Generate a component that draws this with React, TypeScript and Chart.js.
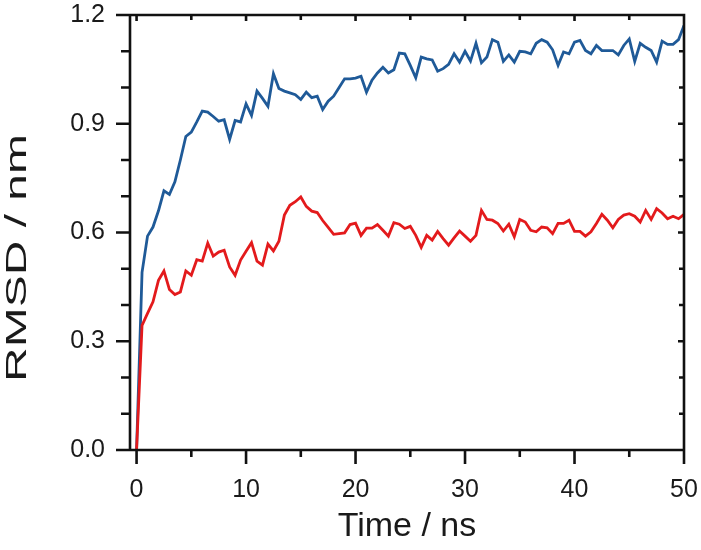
import React, { useEffect, useRef } from "react";
import { Chart, registerables } from "chart.js";

Chart.register(...registerables);

// Simulation time (ns)
const times = [
  0, 0.5, 1, 1.5, 2, 2.5, 3, 3.5, 4, 4.5, 5, 5.5, 6, 6.5, 7, 7.5, 8, 8.5, 9, 9.5,
  10, 10.5, 11, 11.5, 12, 12.5, 13, 13.5, 14, 14.5, 15, 15.5, 16, 16.5, 17, 17.5, 18, 18.5, 19, 19.5,
  20, 20.5, 21, 21.5, 22, 22.5, 23, 23.5, 24, 24.5, 25, 25.5, 26, 26.5, 27, 27.5, 28, 28.5, 29, 29.5,
  30, 30.5, 31, 31.5, 32, 32.5, 33, 33.5, 34, 34.5, 35, 35.5, 36, 36.5, 37, 37.5, 38, 38.5, 39, 39.5,
  40, 40.5, 41, 41.5, 42, 42.5, 43, 43.5, 44, 44.5, 45, 45.5, 46, 46.5, 47, 47.5, 48, 48.5, 49, 49.5,
  50,
];

// Blue trace RMSD (nm)
const blueRmsd = [
  0, 0.49, 0.59, 0.615, 0.66, 0.715, 0.705, 0.74, 0.8, 0.865, 0.877, 0.905, 0.935, 0.932, 0.92, 0.907, 0.911, 0.857, 0.909, 0.905,
  0.955, 0.923, 0.99, 0.97, 0.948, 1.038, 0.997, 0.99, 0.985, 0.98, 0.967, 0.987, 0.972, 0.976, 0.939, 0.962, 0.976, 1.0, 1.024, 1.024,
  1.026, 1.031, 0.987, 1.02, 1.04, 1.056, 1.04, 1.049, 1.095, 1.093, 1.061, 1.027, 1.084, 1.079, 1.076, 1.045, 1.052, 1.064, 1.093, 1.07,
  1.1, 1.073, 1.122, 1.068, 1.084, 1.132, 1.125, 1.072, 1.09, 1.07, 1.1, 1.098, 1.093, 1.122, 1.132, 1.125, 1.104, 1.061, 1.098, 1.093,
  1.125, 1.13, 1.102, 1.093, 1.116, 1.102, 1.102, 1.102, 1.09, 1.116, 1.134, 1.072, 1.122, 1.111, 1.102, 1.07, 1.128, 1.119, 1.119, 1.132,
  1.171,
];

// Red trace RMSD (nm)
const redRmsd = [
  0, 0.344, 0.377, 0.409, 0.468, 0.494, 0.443, 0.429, 0.436, 0.494, 0.482, 0.525, 0.521, 0.571, 0.535, 0.546, 0.551, 0.505, 0.482, 0.524,
  0.548, 0.572, 0.521, 0.51, 0.568, 0.549, 0.576, 0.648, 0.675, 0.685, 0.698, 0.672, 0.659, 0.655, 0.633, 0.614, 0.595, 0.597, 0.599, 0.622,
  0.626, 0.592, 0.612, 0.612, 0.622, 0.606, 0.59, 0.627, 0.623, 0.611, 0.617, 0.592, 0.559, 0.592, 0.579, 0.603, 0.583, 0.565, 0.585, 0.604,
  0.59, 0.576, 0.592, 0.661, 0.636, 0.634, 0.625, 0.604, 0.623, 0.588, 0.636, 0.629, 0.606, 0.602, 0.615, 0.613, 0.597, 0.625, 0.625, 0.634,
  0.603, 0.603, 0.59, 0.602, 0.625, 0.65, 0.634, 0.613, 0.636, 0.648, 0.652, 0.645, 0.629, 0.661, 0.636, 0.666, 0.654, 0.638, 0.645, 0.638,
  0.65,
];

const xMajorTicks = [0, 10, 20, 30, 40, 50];
const xMinorTicks = [5, 15, 25, 35, 45];
const yMajorTicks = [0, 0.3, 0.6, 0.9, 1.2];
const yMinorTicks = [0.1, 0.2, 0.4, 0.5, 0.7, 0.8, 1.0, 1.1];

const xTitle = "Time / ns";
const yTitle = "RMSD / nm";

const FONT = "'Liberation Sans', Arial, Helvetica, sans-serif";

const framePlugin = {
  id: "frameTicks",
  afterDraw(chart: any) {
    const { ctx, chartArea, scales } = chart;
    const { left, right, top, bottom } = chartArea;
    const xs = scales.x;
    const ys = scales.y;
    ctx.save();
    ctx.strokeStyle = "#111";
    ctx.lineWidth = 2.6;
    ctx.beginPath();
    ctx.rect(left, top, right - left, bottom - top);
    xMajorTicks.forEach((v) => {
      const p = xs.getPixelForValue(v);
      ctx.moveTo(p, bottom);
      ctx.lineTo(p, bottom + 14);
      ctx.moveTo(p, top);
      ctx.lineTo(p, top + 6);
    });
    xMinorTicks.forEach((v) => {
      const p = xs.getPixelForValue(v);
      ctx.moveTo(p, bottom);
      ctx.lineTo(p, bottom + 7);
      ctx.moveTo(p, top);
      ctx.lineTo(p, top + 5);
    });
    yMajorTicks.forEach((v) => {
      const p = ys.getPixelForValue(v);
      ctx.moveTo(left, p);
      ctx.lineTo(left - 14, p);
      ctx.moveTo(right, p);
      ctx.lineTo(right - 6, p);
    });
    yMinorTicks.forEach((v) => {
      const p = ys.getPixelForValue(v);
      ctx.moveTo(left, p);
      ctx.lineTo(left - 9, p);
      ctx.moveTo(right, p);
      ctx.lineTo(right - 5, p);
    });
    ctx.stroke();

    // y-axis title (stretched along its length as in the reference)
    ctx.translate(18, 258);
    ctx.rotate(-Math.PI / 2);
    ctx.scale(1.6, 1);
    ctx.fillStyle = "#1a1a1a";
    ctx.font = `30px ${FONT}`;
    ctx.textAlign = "center";
    ctx.textBaseline = "middle";
    ctx.fillText(yTitle, 0, 0);
    ctx.restore();
  },
};

export default function App() {
  const ref = useRef<HTMLCanvasElement | null>(null);

  useEffect(() => {
    if (!ref.current) return;
    const chart = new Chart(ref.current, {
      type: "line",
      data: {
        datasets: [
          {
            label: "red",
            data: times.map((t, i) => ({ x: t, y: redRmsd[i] })),
            borderColor: "#e31a1c",
            borderWidth: 2.8,
            pointRadius: 0,
            tension: 0,
            fill: false,
          },
          {
            label: "blue",
            data: times.map((t, i) => ({ x: t, y: blueRmsd[i] })),
            borderColor: "#1f5a98",
            borderWidth: 2.8,
            pointRadius: 0,
            tension: 0,
            fill: false,
          },
        ],
      },
      options: {
        responsive: false,
        animation: false,
        layout: { padding: { top: 15, right: 17, left: 0, bottom: 0 } },
        plugins: {
          legend: { display: false },
          tooltip: { enabled: false },
        },
        scales: {
          x: {
            type: "linear",
            min: -0.6,
            max: 50,
            afterBuildTicks: (s: any) => {
              s.ticks = xMajorTicks.map((v) => ({ value: v }));
            },
            afterFit: (s: any) => {
              s.height = 100;
              s.paddingLeft = 0;
              s.paddingRight = 0;
            },
            grid: { display: false, drawTicks: false },
            border: { display: false },
            ticks: {
              padding: 25,
              color: "#1a1a1a",
              font: { family: FONT, size: 25 },
              maxRotation: 0,
              callback: (v: any) => String(v),
            },
            title: {
              display: true,
              text: xTitle,
              color: "#1a1a1a",
              font: { family: FONT, size: 34 },
              padding: { top: 0, bottom: 3 },
            },
          },
          y: {
            type: "linear",
            min: 0,
            max: 1.2,
            afterBuildTicks: (s: any) => {
              s.ticks = yMajorTicks.map((v) => ({ value: v }));
            },
            afterFit: (s: any) => {
              s.width = 130;
              s.paddingTop = 0;
              s.paddingBottom = 0;
            },
            grid: { display: false, drawTicks: false },
            border: { display: false },
            ticks: {
              padding: 25,
              color: "#1a1a1a",
              font: { family: FONT, size: 25 },
              callback: (v: any) => Number(v).toFixed(1),
            },
          },
        },
      },
      plugins: [framePlugin],
    });
    return () => chart.destroy();
  }, []);

  return (
    <div style={{ position: "fixed", left: 0, top: 0, width: 701, height: 550, background: "#fff" }}>
      <canvas ref={ref} width={701} height={550} style={{ display: "block" }} />
    </div>
  );
}
